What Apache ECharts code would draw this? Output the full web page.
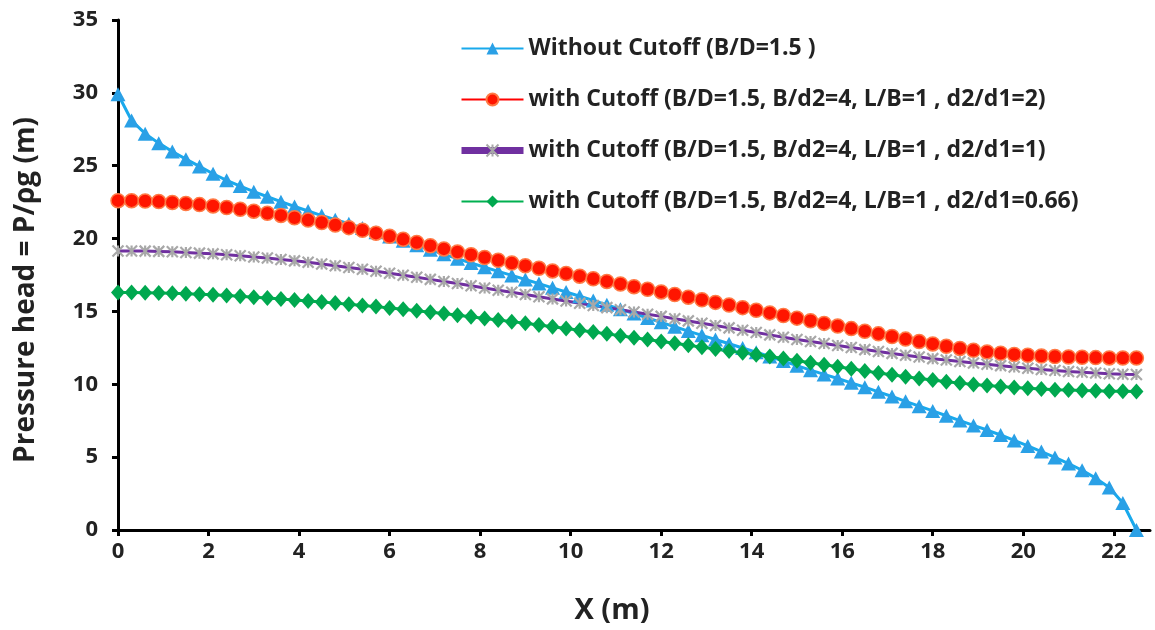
<!DOCTYPE html>
<html>
<head>
<meta charset="utf-8">
<title>Pressure head along the base</title>
<script src="https://cdn.jsdelivr.net/npm/echarts@6/dist/echarts.min.js"></script>
<style>
  html, body { margin: 0; padding: 0; background: #ffffff; }
  #chart { width: 1155px; height: 630px; }
</style>
</head>
<body>
<div id="chart"></div>
<script>
// Distance along the base of the structure (m)
const xValues = [
  0, 0.3, 0.6, 0.9, 1.2, 1.5, 1.8, 2.1, 2.4, 2.7,
  3, 3.3, 3.6, 3.9, 4.2, 4.5, 4.8, 5.1, 5.4, 5.7,
  6, 6.3, 6.6, 6.9, 7.2, 7.5, 7.8, 8.1, 8.4, 8.7,
  9, 9.3, 9.6, 9.9, 10.2, 10.5, 10.8, 11.1, 11.4, 11.7,
  12, 12.3, 12.6, 12.9, 13.2, 13.5, 13.8, 14.1, 14.4, 14.7,
  15, 15.3, 15.6, 15.9, 16.2, 16.5, 16.8, 17.1, 17.4, 17.7,
  18, 18.3, 18.6, 18.9, 19.2, 19.5, 19.8, 20.1, 20.4, 20.7,
  21, 21.3, 21.6, 21.9, 22.2, 22.5
];

// Pressure head (m), one array per case
const withoutCutoff = [
  29.9, 28.1, 27.2, 26.55, 25.98, 25.45, 24.95, 24.45, 24.0, 23.6,
  23.22, 22.87, 22.53, 22.2, 21.89, 21.58, 21.3, 21.02, 20.73, 20.44,
  20.15, 19.85, 19.54, 19.23, 18.92, 18.62, 18.32, 18.03, 17.75, 17.47,
  17.19, 16.91, 16.62, 16.33, 16.04, 15.75, 15.45, 15.15, 14.85, 14.55,
  14.25, 13.95, 13.65, 13.36, 13.07, 12.78, 12.49, 12.2, 11.91, 11.6,
  11.28, 10.97, 10.68, 10.4, 10.1, 9.8, 9.48, 9.16, 8.83, 8.5,
  8.17, 7.84, 7.51, 7.18, 6.86, 6.52, 6.15, 5.77, 5.38, 4.98,
  4.56, 4.1, 3.56, 2.92, 1.85, 0
];
const cutoffRatio2 = [
  22.6, 22.6, 22.58, 22.54, 22.48, 22.41, 22.33, 22.24, 22.13, 22.01,
  21.88, 21.74, 21.59, 21.43, 21.27, 21.1, 20.93, 20.75, 20.57, 20.37,
  20.16, 19.95, 19.73, 19.51, 19.29, 19.08, 18.89, 18.7, 18.51, 18.32,
  18.14, 17.96, 17.78, 17.6, 17.42, 17.24, 17.06, 16.88, 16.7, 16.52,
  16.34, 16.16, 15.98, 15.8, 15.62, 15.44, 15.26, 15.08, 14.9, 14.72,
  14.54, 14.36, 14.18, 14.0, 13.82, 13.64, 13.46, 13.28, 13.1, 12.93,
  12.77, 12.61, 12.46, 12.33, 12.22, 12.13, 12.05, 11.99, 11.94, 11.9,
  11.87, 11.85, 11.83, 11.81, 11.8, 11.8
];
const cutoffRatio1 = [
  19.15, 19.15, 19.14, 19.12, 19.09, 19.05, 19.0, 18.95, 18.89, 18.82,
  18.74, 18.66, 18.57, 18.47, 18.37, 18.26, 18.14, 18.02, 17.89, 17.76,
  17.62, 17.48, 17.34, 17.2, 17.06, 16.91, 16.76, 16.61, 16.46, 16.31,
  16.16, 16.01, 15.86, 15.71, 15.56, 15.41, 15.26, 15.11, 14.96, 14.81,
  14.66, 14.5, 14.35, 14.19, 14.03, 13.87, 13.71, 13.55, 13.39, 13.23,
  13.08, 12.94, 12.8, 12.66, 12.52, 12.38, 12.25, 12.12, 11.99, 11.87,
  11.76, 11.66, 11.56, 11.46, 11.37, 11.28, 11.19, 11.1, 11.02, 10.95,
  10.88, 10.82, 10.77, 10.72, 10.69, 10.67
];
const cutoffRatio066 = [
  16.3, 16.3, 16.29, 16.27, 16.25, 16.22, 16.18, 16.14, 16.09, 16.04,
  15.98, 15.92, 15.86, 15.79, 15.72, 15.65, 15.57, 15.49, 15.41, 15.33,
  15.24, 15.15, 15.05, 14.95, 14.85, 14.74, 14.63, 14.52, 14.41, 14.3,
  14.19, 14.07, 13.95, 13.83, 13.71, 13.59, 13.46, 13.33, 13.2, 13.07,
  12.94, 12.81, 12.68, 12.55, 12.42, 12.29, 12.16, 12.03, 11.9, 11.77,
  11.62, 11.48, 11.34, 11.2, 11.06, 10.92, 10.78, 10.65, 10.52, 10.4,
  10.29, 10.18, 10.08, 9.99, 9.91, 9.84, 9.78, 9.72, 9.67, 9.63,
  9.6, 9.57, 9.55, 9.53, 9.52, 9.51
];

const seriesNames = [
  'Without Cutoff (B/D=1.5 )',
  'with Cutoff (B/D=1.5, B/d2=4, L/B=1 , d2/d1=2)',
  'with Cutoff (B/D=1.5, B/d2=4, L/B=1 , d2/d1=1)',
  'with Cutoff (B/D=1.5, B/d2=4, L/B=1 , d2/d1=0.66)'
];

const xTicks = [0, 2, 4, 6, 8, 10, 12, 14, 16, 18, 20, 22];
const yTicks = [0, 5, 10, 15, 20, 25, 30, 35];

const pairs = ys => xValues.map((x, i) => [x, ys[i]]);

const textColor = '#222222';
const fontFamily = '"Open Sans", Lato, sans-serif';

// Star-like cross marker (x with a vertical bar)
const starPath = 'path://M0,0 L10,10 M10,0 L0,10 M5,0 L5,10';

const chart = echarts.init(document.getElementById('chart'), null, { renderer: 'canvas' });

chart.setOption({
  animation: false,
  backgroundColor: '#ffffff',
  grid: { left: 118, right: 5, top: 20, bottom: 100, containLabel: false },
  legend: {
    orient: 'vertical',
    left: 458,
    top: 37,
    padding: 0,
    itemWidth: 62,
    itemHeight: 15,
    itemGap: 28,
    textStyle: {
      color: textColor,
      fontFamily: fontFamily,
      fontWeight: 'bold',
      fontSize: 23,
      lineHeight: 20
    },
    data: [
      { name: seriesNames[0] },
      { name: seriesNames[1] },
      { name: seriesNames[2], lineStyle: { width: 7 } },
      { name: seriesNames[3] }
    ]
  },
  xAxis: {
    type: 'value',
    min: 0,
    max: 22.8,
    name: 'X (m)',
    nameLocation: 'middle',
    nameGap: 66,
    nameTextStyle: {
      color: textColor, fontFamily: fontFamily, fontWeight: 'bold', fontSize: 29,
      padding: [0, 44, 0, 0]
    },
    axisLine: { show: true, onZero: false, lineStyle: { color: '#000', width: 3 } },
    axisTick: { show: true, length: 6, lineStyle: { color: '#000', width: 3 }, customValues: xTicks },
    axisLabel: {
      color: textColor, fontFamily: fontFamily, fontWeight: 'bold', fontSize: 22, margin: 11,
      customValues: xTicks
    },
    splitLine: { show: false }
  },
  yAxis: {
    type: 'value',
    min: 0,
    max: 35,
    interval: 5,
    name: 'Pressure head = P/ρg (m)',
    nameLocation: 'middle',
    nameGap: 78,
    nameRotate: 90,
    nameTextStyle: {
      color: textColor, fontFamily: fontFamily, fontWeight: 'bold', fontSize: 28,
      padding: [0, 30, 0, 0]
    },
    axisLine: { show: true, onZero: false, lineStyle: { color: '#000', width: 3 } },
    axisTick: { show: true, length: 6, lineStyle: { color: '#000', width: 3 } },
    axisLabel: {
      color: textColor, fontFamily: fontFamily, fontWeight: 'bold', fontSize: 22, margin: 20,
      customValues: yTicks
    },
    splitLine: { show: false }
  },
  series: [
    {
      name: seriesNames[0],
      type: 'line',
      data: pairs(withoutCutoff),
      symbol: 'triangle',
      symbolSize: [15, 14],
      lineStyle: { color: '#19A9EC', width: 3 },
      itemStyle: { color: '#2AA0E6', borderColor: '#2AA0E6', borderWidth: 0 }
    },
    {
      name: seriesNames[1],
      type: 'line',
      data: pairs(cutoffRatio2),
      symbol: 'circle',
      symbolSize: 14,
      lineStyle: { color: '#FF0000', width: 3 },
      itemStyle: { color: '#FF1500', borderColor: '#FF7A45', borderWidth: 1.5 }
    },
    {
      name: seriesNames[2],
      type: 'line',
      data: pairs(cutoffRatio1),
      symbol: starPath,
      symbolSize: 11,
      lineStyle: { color: '#7030A0', width: 3 },
      itemStyle: { color: 'rgba(0,0,0,0)', borderColor: '#A8A8A8', borderWidth: 2.2 }
    },
    {
      name: seriesNames[3],
      type: 'line',
      data: pairs(cutoffRatio066),
      symbol: 'diamond',
      symbolSize: [14, 16],
      lineStyle: { color: '#00B050', width: 3 },
      itemStyle: { color: '#00A84F', borderColor: '#00A84F', borderWidth: 0 }
    }
  ]
});
</script>
</body>
</html>
